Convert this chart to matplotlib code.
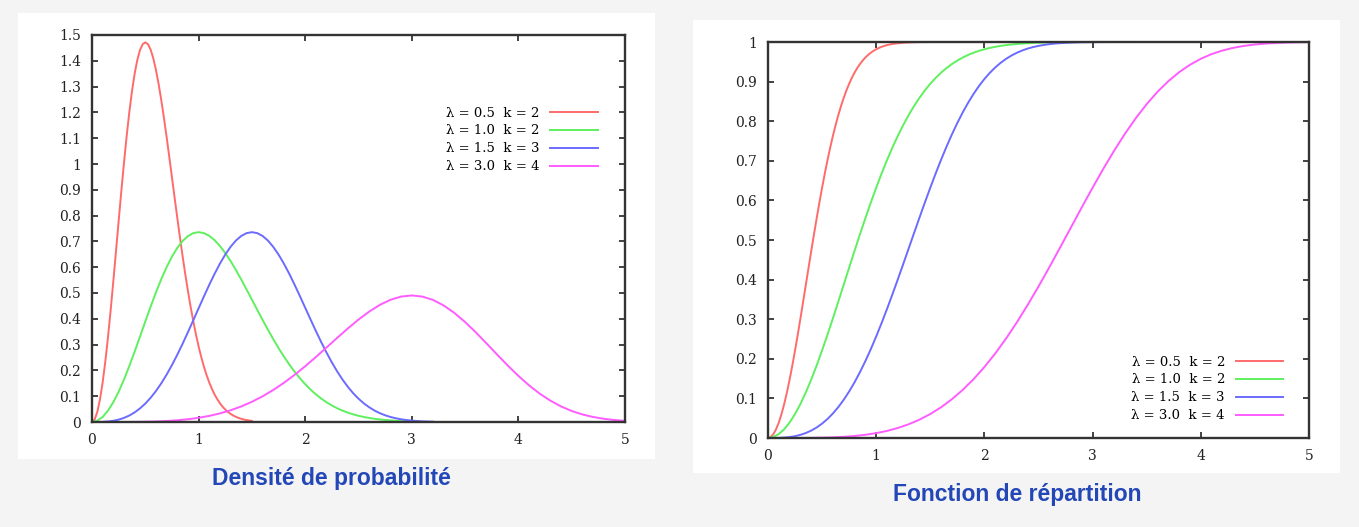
from matplotlib import pyplot as plt
from matplotlib.patches import Rectangle

# legend texts and colours
labels = ["λ = 0.5  k = 2", "λ = 1.0  k = 2", "λ = 1.5  k = 3", "λ = 3.0  k = 4"]
colors = ["#ff6b6b", "#5ef05e", "#6b6bff", "#ff5cff"]

x_red = [round(i * 0.025, 3) for i in range(61)]
pdf_red = [0.0, 0.0100, 0.0396, 0.0880, 0.1537, 0.2349, 0.3290, 0.4335, 0.5453, 0.6615,
           0.7788, 0.8942, 1.0047, 1.1077, 1.2007, 1.2820, 1.3499, 1.4032, 1.4415, 1.4641,
           1.4715, 1.4643, 1.4433, 1.4096, 1.3645, 1.3101, 1.2472, 1.1782, 1.1047, 1.0273,
           0.9486, 0.8696, 0.7916, 0.7156, 0.6427, 0.5729, 0.5080, 0.4467, 0.3913, 0.3394,
           0.2931, 0.2515, 0.2145, 0.1817, 0.1531, 0.1282, 0.1066, 0.0883, 0.0726, 0.0594,
           0.0483, 0.0390, 0.0314, 0.0250, 0.0199, 0.0157, 0.0124, 0.0096, 0.0075, 0.0058,
           0.0044]
cdf_red = [0.0, 0.0025, 0.0100, 0.0223, 0.0392, 0.0606, 0.0861, 0.1153, 0.1479, 0.1833,
           0.2212, 0.2610, 0.3023, 0.3446, 0.3874, 0.4302, 0.4727, 0.5145, 0.5551, 0.5944,
           0.6321, 0.6680, 0.7018, 0.7335, 0.7631, 0.7904, 0.8155, 0.8384, 0.8591, 0.8779,
           0.8946, 0.9095, 0.9227, 0.9343, 0.9444, 0.9532, 0.9608, 0.9674, 0.9729, 0.9777,
           0.9817, 0.9850, 0.9878, 0.9902, 0.9921, 0.9937, 0.9950, 0.9960, 0.9968, 0.9975,
           0.9981, 0.9985, 0.9988, 0.9991, 0.9993, 0.9995, 0.9996, 0.9997, 0.9998, 0.9998,
           0.9999]

x_green = [round(i * 0.05, 2) for i in range(61)]
pdf_green = [0.0, 0.0050, 0.0198, 0.0440, 0.0769, 0.1174, 0.1645, 0.2168, 0.2727, 0.3308,
             0.3894, 0.4471, 0.5023, 0.5538, 0.6003, 0.6410, 0.6749, 0.7016, 0.7207, 0.7321,
             0.7358, 0.7321, 0.7216, 0.7048, 0.6823, 0.6550, 0.6236, 0.5891, 0.5523, 0.5136,
             0.4743, 0.4348, 0.3958, 0.3578, 0.3214, 0.2865, 0.2540, 0.2233, 0.1953, 0.1697,
             0.1465, 0.1257, 0.1073, 0.0909, 0.0766, 0.0641, 0.0533, 0.0441, 0.0363, 0.0297,
             0.0241, 0.0195, 0.0157, 0.0125, 0.0100, 0.0079, 0.0062, 0.0048, 0.0037, 0.0029,
             0.0022]
cdf_green = [0.0, 0.0025, 0.0100, 0.0223, 0.0392, 0.0606, 0.0861, 0.1153, 0.1479, 0.1833,
             0.2212, 0.2610, 0.3023, 0.3446, 0.3874, 0.4302, 0.4727, 0.5145, 0.5551, 0.5944,
             0.6321, 0.6680, 0.7018, 0.7335, 0.7631, 0.7904, 0.8155, 0.8384, 0.8591, 0.8779,
             0.8946, 0.9095, 0.9227, 0.9343, 0.9444, 0.9532, 0.9608, 0.9674, 0.9729, 0.9777,
             0.9817, 0.9850, 0.9878, 0.9902, 0.9921, 0.9937, 0.9950, 0.9960, 0.9968, 0.9975,
             0.9981, 0.9985, 0.9988, 0.9991, 0.9993, 0.9995, 0.9996, 0.9997, 0.9998, 0.9998,
             0.9999]

x_blue = [round(i * 0.05, 2) for i in range(65)]
pdf_blue = [0.0, 0.0001, 0.0006, 0.0020, 0.0047, 0.0092, 0.0159, 0.0251, 0.0372, 0.0526,
            0.0714, 0.0939, 0.1201, 0.1500, 0.1836, 0.2206, 0.2607, 0.3034, 0.3481, 0.3941,
            0.4406, 0.4868, 0.5317, 0.5743, 0.6137, 0.6489, 0.6790, 0.7033, 0.7211, 0.7321,
            0.7358, 0.7321, 0.7211, 0.7034, 0.6789, 0.6490, 0.6138, 0.5748, 0.5325, 0.4883,
            0.4428, 0.3976, 0.3529, 0.3099, 0.2691, 0.2310, 0.1960, 0.1644, 0.1363, 0.1116,
            0.0904, 0.0722, 0.0571, 0.0444, 0.0342, 0.0260, 0.0195, 0.0144, 0.0105, 0.0076,
            0.0054, 0.0038, 0.0026, 0.0018, 0.0012]
cdf_blue = [0.0, 0.0000, 0.0003, 0.0010, 0.0024, 0.0046, 0.0080, 0.0126, 0.0188, 0.0266,
            0.0364, 0.0481, 0.0620, 0.0781, 0.0966, 0.1175, 0.1407, 0.1664, 0.1943, 0.2243,
            0.2564, 0.2904, 0.3259, 0.3628, 0.4007, 0.4394, 0.4785, 0.5176, 0.5565, 0.5948,
            0.6321, 0.6683, 0.7029, 0.7358, 0.7668, 0.7957, 0.8224, 0.8468, 0.8690, 0.8889,
            0.9066, 0.9221, 0.9357, 0.9474, 0.9574, 0.9658, 0.9728, 0.9786, 0.9834, 0.9872,
            0.9902, 0.9926, 0.9945, 0.9960, 0.9971, 0.9979, 0.9985, 0.9990, 0.9993, 0.9995,
            0.9997, 0.9998, 0.9999, 0.9999, 1.0]

x_mag = [round(i * 0.1, 1) for i in range(51)]
pdf_mag = [0.0, 0.0000, 0.0000, 0.0001, 0.0004, 0.0010, 0.0021, 0.0039, 0.0067, 0.0107,
           0.0163, 0.0237, 0.0333, 0.0454, 0.0603, 0.0783, 0.0995, 0.1240, 0.1518, 0.1826,
           0.2162, 0.2518, 0.2888, 0.3261, 0.3626, 0.3970, 0.4279, 0.4539, 0.4737, 0.4862,
           0.4905, 0.4861, 0.4730, 0.4515, 0.4225, 0.3874, 0.3477, 0.3051, 0.2615, 0.2190,
           0.1787, 0.1421, 0.1099, 0.0827, 0.0603, 0.0427, 0.0293, 0.0195, 0.0125, 0.0077,
           0.0046]
cdf_mag = [0.0, 0.0000, 0.0000, 0.0001, 0.0003, 0.0008, 0.0016, 0.0030, 0.0050, 0.0081,
           0.0123, 0.0179, 0.0253, 0.0347, 0.0463, 0.0606, 0.0777, 0.0980, 0.1216, 0.1486,
           0.1793, 0.2134, 0.2511, 0.2921, 0.3361, 0.3826, 0.4312, 0.4812, 0.5318, 0.5824,
           0.6321, 0.6802, 0.7260, 0.7687, 0.8079, 0.8432, 0.8743, 0.9011, 0.9238, 0.9425,
           0.9576, 0.9695, 0.9785, 0.9853, 0.9902, 0.9937, 0.9960, 0.9976, 0.9986, 0.9992,
           0.9996]

x_ticks = [0, 1, 2, 3, 4, 5]
pdf_ticks = [i / 10 for i in range(16)]
cdf_ticks = [i / 10 for i in range(11)]

titles = ["Densité de probabilité", "Fonction de répartition"]


def fmt(v):
    return "%g" % round(v, 1)


fig = plt.figure(figsize=(13.59, 5.27), dpi=100)
fig.patch.set_facecolor("#f4f4f4")

# white panels behind each chart
W, H = 1359.0, 527.0
for (px0, py0, px1, py1) in [(18, 13, 655, 459), (693, 20, 1340, 473)]:
    fig.patches.append(Rectangle((px0 / W, 1 - py1 / H), (px1 - px0) / W, (py1 - py0) / H,
                                 transform=fig.transFigure, facecolor="white",
                                 edgecolor="none", zorder=-5))

ax1 = fig.add_axes([92 / W, 1 - 422 / H, (625 - 92) / W, (422 - 35) / H])
ax2 = fig.add_axes([768 / W, 1 - 438 / H, (1309 - 768) / W, (438 - 42) / H])

xs = [x_red, x_green, x_blue, x_mag]
pdfs = [pdf_red, pdf_green, pdf_blue, pdf_mag]
cdfs = [cdf_red, cdf_green, cdf_blue, cdf_mag]

for i in range(4):
    ax1.plot(xs[i], pdfs[i], color=colors[i], lw=1.4, label=labels[i])
    # the cdf stays at 1 up to the right edge
    ax2.plot(xs[i] + [5.0], cdfs[i] + [1.0], color=colors[i], lw=1.4, label=labels[i])

serif = "DejaVu Serif"
for ax, yt, ymax in [(ax1, pdf_ticks, 1.5), (ax2, cdf_ticks, 1.0)]:
    ax.set_xlim(0, 5)
    ax.set_ylim(0, ymax)
    ax.set_xticks(x_ticks)
    ax.set_xticklabels([str(t) for t in x_ticks])
    ax.set_yticks(yt)
    ax.set_yticklabels([fmt(t) for t in yt])
    ax.tick_params(direction="in", length=4, width=1.2, top=True, right=True,
                   pad=8, labelsize=10, colors="#222222")
    for lab in ax.get_xticklabels() + ax.get_yticklabels():
        lab.set_family(serif)
    for sp in ax.spines.values():
        sp.set_linewidth(1.7)
        sp.set_color("#333333")
    ax.set_facecolor("white")

leg_kw = dict(frameon=False, markerfirst=False, handlelength=3.6, handletextpad=0.8,
              labelspacing=0.37, borderpad=0, borderaxespad=0,
              prop={"family": serif, "size": 9.5})
ax1.legend(loc="upper right", bbox_to_anchor=(0.949, 0.815), **leg_kw)
ax2.legend(loc="lower right", bbox_to_anchor=(0.952, 0.04), **leg_kw)

title_font = dict(family="Liberation Sans", weight="bold",
                  size=16.5, color="#2447b8", ha="center", va="center")
fig.text(331 / W, 1 - 479 / H, titles[0], **title_font)
fig.text(1017 / W, 1 - 494 / H, titles[1], **title_font)

fig.savefig("out.png", dpi=100, facecolor=fig.get_facecolor())
